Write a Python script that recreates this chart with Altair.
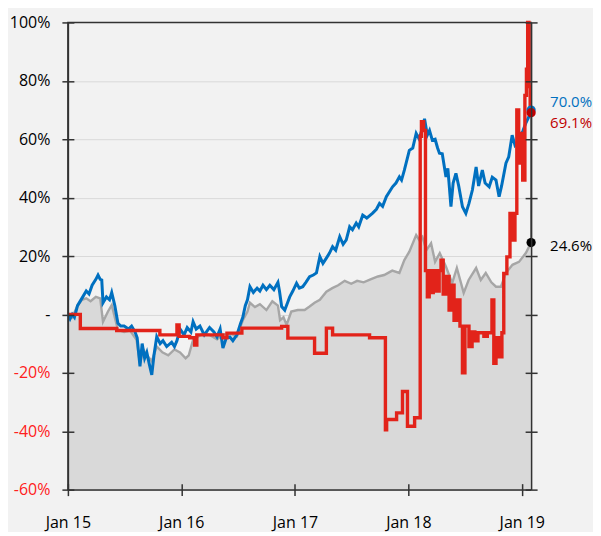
import altair as alt
import pandas as pd

FONT = "Open Sans"

# ---------------- data ----------------
blue_dates = ["2015-01-01","2015-01-08","2015-01-15","2015-01-22","2015-02-01","2015-02-15","2015-03-01","2015-03-10",
"2015-03-20","2015-04-01","2015-04-08","2015-04-15","2015-04-20","2015-04-24","2015-05-05","2015-05-15","2015-05-22",
"2015-06-01","2015-06-11","2015-06-20","2015-07-01","2015-07-15","2015-07-25","2015-08-05","2015-08-12","2015-08-21",
"2015-08-28","2015-09-05","2015-09-12","2015-09-20","2015-09-28","2015-10-05","2015-10-14","2015-10-25","2015-11-03",
"2015-11-15","2015-12-01","2015-12-10","2015-12-18","2015-12-28","2016-01-10","2016-01-20","2016-02-01","2016-02-08",
"2016-02-18","2016-03-01","2016-03-15","2016-04-01","2016-04-15","2016-04-25","2016-05-05","2016-05-14","2016-05-25",
"2016-06-05","2016-06-15","2016-06-28","2016-07-10","2016-07-17","2016-07-25","2016-08-01","2016-08-09","2016-08-20",
"2016-09-01","2016-09-10","2016-09-20","2016-10-01","2016-10-12","2016-10-25","2016-11-07","2016-11-12","2016-11-19",
"2016-11-29","2016-12-08","2016-12-15","2016-12-25","2017-01-06","2017-01-15","2017-01-26","2017-02-05","2017-02-17",
"2017-03-01","2017-03-11","2017-03-22","2017-04-01","2017-04-12","2017-04-22","2017-05-02","2017-05-12","2017-05-25",
"2017-06-05","2017-06-15","2017-06-26","2017-07-05","2017-07-17","2017-07-25","2017-08-07","2017-08-20","2017-09-08",
"2017-09-20","2017-09-30","2017-10-10","2017-10-22","2017-11-01","2017-11-11","2017-11-22","2017-12-03","2017-12-10",
"2017-12-19","2018-01-04","2018-01-15","2018-01-26","2018-02-05","2018-02-15","2018-02-22","2018-03-03","2018-03-10",
"2018-03-19","2018-03-28","2018-04-05","2018-04-11","2018-04-20","2018-05-02","2018-05-08","2018-05-18","2018-05-25",
"2018-06-03","2018-06-12","2018-06-24","2018-07-05","2018-07-15","2018-07-26","2018-08-07","2018-08-15","2018-08-27",
"2018-09-05","2018-09-18","2018-09-28","2018-10-10","2018-10-20","2018-10-28","2018-11-11","2018-11-20","2018-12-01",
"2018-12-10","2018-12-23","2019-01-05","2019-01-14","2019-01-25","2019-01-31"]
blue_vals = [0,-1.5,0,-1,3,5.5,8,7,
10,12,13.5,12,11.8,4,6,5,7.5,
3,-3,-4,-4,-5,-4,-6,-8,-17.8,
-10,-15,-13,-17,-20.7,-14,-7.6,-10,-9,
-11,-9.5,-11,-9,-5,-7,-4.5,-6,-2.5,
-5,-4,-7,-4.5,-6,-7.7,-5,-11.5,-8,
-7.7,-9,-7,-3,-1,3,5,9.5,7.5,
9,8,10,8.5,10,8.5,11,8,2.7,
1.5,4,6,8,10.7,9,9.5,11,12.9,
13.5,14.2,19.8,17.5,19.3,21,23.2,22,26.6,
24,25.5,30,29,31.3,30,34,33,34.7,
36,38,37,40.3,42,43.7,45,47.1,46,
49.4,56.2,57,62,60,64,67,61.4,63,
59.7,60,57,55.2,55,47.1,50,36.9,45,
48.3,44,36.9,34.6,38,42.6,50.5,44,49.4,
45,43.7,47,46,40.3,44,51.8,54,61.4,
58,59.7,63,65.5,68,70.0]

gray_dates = ["2015-01-01","2015-01-15","2015-02-01","2015-02-15","2015-03-01","2015-03-15","2015-04-01","2015-04-15",
"2015-04-24","2015-05-10","2015-05-22","2015-06-11","2015-07-01","2015-07-20","2015-08-10","2015-08-21","2015-09-01",
"2015-09-12","2015-09-28","2015-10-14","2015-11-01","2015-11-20","2015-12-10","2015-12-28","2016-01-15","2016-01-25",
"2016-02-08","2016-02-20","2016-03-10","2016-04-01","2016-04-25","2016-05-14","2016-06-05","2016-06-28","2016-07-17",
"2016-08-01","2016-08-09","2016-08-25","2016-09-10","2016-10-01","2016-10-20","2016-11-07","2016-11-14","2016-11-25",
"2016-12-05","2016-12-20","2017-01-10","2017-02-01","2017-02-17","2017-03-05","2017-03-22","2017-04-12","2017-05-01",
"2017-05-20","2017-06-10","2017-07-01","2017-07-20","2017-08-10","2017-09-01","2017-09-25","2017-10-15","2017-11-10",
"2017-12-03","2017-12-19","2018-01-04","2018-01-26","2018-02-05","2018-02-15","2018-02-28","2018-03-15","2018-03-28",
"2018-04-12","2018-05-02","2018-05-22","2018-06-06","2018-06-28","2018-07-14","2018-08-07","2018-08-22","2018-09-07",
"2018-09-25","2018-10-10","2018-10-26","2018-11-11","2018-12-02","2018-12-23","2019-01-14","2019-01-31"]
gray_vals = [0,-1,3,5,5.5,4.5,6,5.5,
-2.5,1,3.2,-5.3,-6,-5.5,-8.7,-17,-12,
-14,-16,-11,-13,-14,-12,-13,-15,-14,
-8.7,-8,-6.5,-7,-8.5,-7,-6.5,-7.5,-2,
1,4,2.5,3.5,1.5,4.5,3,-2,-1,
-3.6,1,1.5,1.5,2.7,4,5,7.8,9,
10,11.5,10.5,11.5,11,12,13,13.5,15,
14.2,18.6,21.5,27.2,25.5,26.6,22,24.4,18,
21,16.3,10.7,15.9,7.4,11.8,15.9,11.8,14.2,
11,9.5,9.5,14.2,17,18,21,24.6]

red_dates = ["2015-01-01","2015-02-10","2015-06-07","2015-10-24","2015-12-18","2015-12-25","2016-01-28","2016-02-13",
"2016-02-20","2016-05-14","2016-05-27","2016-07-14","2016-11-19","2016-12-09","2017-03-05","2017-04-12","2017-05-02",
"2017-08-29","2017-10-19","2017-10-23","2017-11-24","2017-12-13","2017-12-29","2018-01-21","2018-02-08","2018-02-12",
"2018-02-19","2018-02-25","2018-03-03","2018-03-09","2018-03-15","2018-03-22","2018-03-31","2018-04-10","2018-04-16",
"2018-04-23","2018-05-02","2018-05-12","2018-05-18","2018-05-28","2018-06-06","2018-06-16","2018-06-24","2018-07-02",
"2018-07-15","2018-07-25","2018-08-03","2018-08-13","2018-09-01","2018-09-12","2018-09-27","2018-10-03","2018-10-10",
"2018-10-19","2018-10-29","2018-11-04","2018-11-14","2018-11-24","2018-12-03","2018-12-10","2018-12-16","2018-12-22",
"2018-12-29","2019-01-04","2019-01-11","2019-01-16","2019-01-20","2019-01-24","2019-01-28","2019-01-31"]
red_vals = [0,-4.8,-5.5,-7,-3.6,-7.5,-8,-10.5,
-7,-8,-6.4,-4.7,-4.1,-8.1,-13.3,-4.7,-7,
-8,-39.5,-36,-33.7,-26.4,-38.3,-35.4,61,66,
63,15,6,15,7.5,15,8,15,18.6,
7,13,1.5,10,-2,5,-4,-20,-4,
-11,-6,-9,-6.3,-7.5,-6.3,5,-16.7,-8,
-14.5,-6.3,14,19.7,34.6,25.5,34.6,70,51.8,
62,46,75,84,100,78,69.1,69.1]

y_ticks = [-60, -40, -20, 0, 20, 40, 60, 80, 100]
y_grid = [0, 20, 40, 60, 80]
x_ticks = ["2015-01-01", "2016-01-01", "2017-01-01", "2018-01-01", "2019-01-01"]
x_domain = ["2015-01-01", "2019-01-31"]

end_date = "2019-01-31"
end_values = [70.0, 69.1, 24.6]
end_labels = ["70.0%", "69.1%", "24.6%"]
end_text_colors = ["#0070c0", "#c00000", "#000000"]
end_dot_colors = ["#0070c0", "#c00000", "#000000"]
end_dy = [-8, 10, 3]

BLUE = "#0070c0"
RED = "#e2231a"
GRAYLINE = "#a6a6a6"
AREA = "#d9d9d9"
AXIS = "#333333"

def ms(s):
    return int(pd.Timestamp(s, tz="UTC").value // 10**6)

x_tick_ms = [ms(d) for d in x_ticks]
x_scale = alt.Scale(type="utc", domain=[ms(d) for d in x_domain])
y_scale = alt.Scale(domain=[min(y_ticks), max(y_ticks)], nice=False, zero=False)

blue_df = pd.DataFrame({"date": blue_dates, "value": blue_vals})
gray_df = pd.DataFrame({"date": gray_dates, "value": gray_vals})
red_df = pd.DataFrame({"date": red_dates, "value": red_vals})

common = dict(title=None, zindex=1, tickColor=AXIS, tickWidth=1.5, domainColor=AXIS, domainWidth=1.5, grid=False)

ax_x_main = alt.Axis(orient="bottom", values=x_tick_ms, labelExpr="utcFormat(datum.value, '%b %y')", tickSize=6,
                     labelFont=FONT, labelFontSize=16, labelColor="#000000", labelPadding=19,
                     labelFlush=False, **common)
ax_x_inner = alt.Axis(orient="bottom", offset=-6, values=x_tick_ms, tickSize=6, domain=False, labels=False, **common)

ax_y_grid = alt.Axis(orient="left", values=y_grid, grid=True, gridColor="#d9d9d9", gridWidth=1,
                     domain=False, ticks=False, labels=False, title=None, zindex=0)
ax_y_main = alt.Axis(orient="left", values=y_ticks, tickSize=6, labelPadding=12,
                     labelExpr="datum.value == 0 ? '-' : datum.value + '%'",
                     labelColor={"condition": {"test": "datum.value < 0", "value": "#ff2020"}, "value": "#000000"},
                     labelFont=FONT, labelFontSize=16, labelFlush=False, **common)
ax_y_inner = alt.Axis(orient="left", offset=-6, values=y_ticks, tickSize=6, domain=False, labels=False, **common)
ax_yr_main = alt.Axis(orient="right", values=y_ticks, tickSize=6, labels=False, **common)
ax_yr_inner = alt.Axis(orient="right", offset=-6, values=y_ticks, tickSize=6, domain=False, labels=False, **common)

area = alt.Chart(gray_df).mark_area(color=AREA, opacity=1).encode(
    x=alt.X("date:T", scale=x_scale, axis=ax_x_main),
    y=alt.Y("value:Q", scale=y_scale, axis=ax_y_grid),
    y2=alt.datum(min(y_ticks)),
)
gray_line = alt.Chart(gray_df).mark_line(color=GRAYLINE, strokeWidth=2.4).encode(
    x=alt.X("date:T", scale=x_scale, axis=ax_x_inner),
    y=alt.Y("value:Q", scale=y_scale, axis=ax_y_main),
)
blue_line = alt.Chart(blue_df).mark_line(color=BLUE, strokeWidth=3).encode(
    x=alt.X("date:T", scale=x_scale, axis=None),
    y=alt.Y("value:Q", scale=y_scale, axis=ax_y_inner),
)
red_line = alt.Chart(red_df).mark_line(color=RED, strokeWidth=3.4, interpolate="step-after").encode(
    x=alt.X("date:T", scale=x_scale, axis=None),
    y=alt.Y("value:Q", scale=y_scale, axis=ax_yr_main),
)

layers = [area, gray_line, blue_line, red_line]
end_axes = [ax_yr_inner, None, None]
for i in range(len(end_values)):
    d = pd.DataFrame({"date": [end_date], "value": [end_values[i]], "label": [end_labels[i]]})
    dot = alt.Chart(d).mark_circle(size=85, opacity=1, color=end_dot_colors[i]).encode(
        x=alt.X("date:T", scale=x_scale, axis=None),
        y=alt.Y("value:Q", scale=y_scale, axis=end_axes[i]),
    )
    txt = alt.Chart(d).mark_text(align="left", baseline="middle", dx=19, dy=end_dy[i], font=FONT,
                                 fontSize=15, color=end_text_colors[i]).encode(
        x=alt.X("date:T", scale=x_scale, axis=None),
        y=alt.Y("value:Q", scale=y_scale, axis=None),
        text="label:N",
    )
    layers += [dot, txt]

chart = alt.layer(*layers).resolve_scale(x="shared", y="shared").resolve_axis(
    x="independent", y="independent"
).properties(
    width=464, height=468,
    padding={"left": 60, "top": 14, "right": 62, "bottom": 42},
    autosize=alt.AutoSizeParams(type="none"),
    background="#f2f2f2",
).configure_view(stroke=AXIS, strokeWidth=1.5)

chart.save("out.html", embed_options={"renderer": "svg", "actions": False})
